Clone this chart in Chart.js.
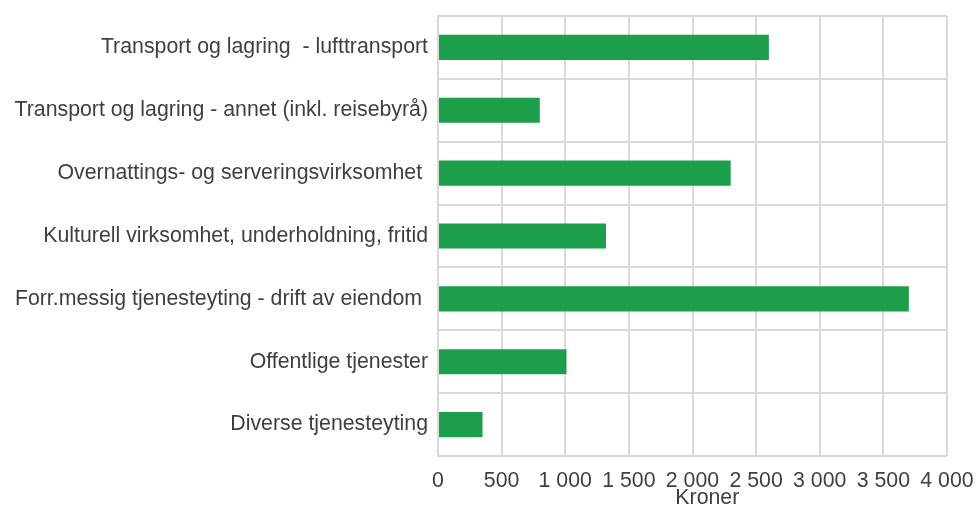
<!DOCTYPE html>
<html>
<head>
<meta charset="utf-8">
<script src="https://cdn.jsdelivr.net/npm/chart.js@4/dist/chart.umd.min.js"></script>
<style>
  html, body { margin: 0; padding: 0; background: #fff; }
  #wrap { width: 976px; height: 507px; }
</style>
</head>
<body>
<div id="wrap"><canvas id="graf"></canvas></div>
<script>
const kategorier = [
    'Transport og lagring  - lufttransport',
    'Transport og lagring - annet (inkl. reisebyrå)',
    'Overnattings- og serveringsvirksomhet ',
    'Kulturell virksomhet, underholdning, fritid',
    'Forr.messig tjenesteyting - drift av eiendom ',
    'Offentlige tjenester',
    'Diverse tjenesteyting'
];
const kroner = [2600, 800, 2300, 1320, 3700, 1010, 350];

const ctx = document.getElementById('graf').getContext('2d');

new Chart(ctx, {
    type: 'bar',
    data: {
        labels: kategorier,
        datasets: [{
            data: kroner,
            backgroundColor: '#1c9e4b',
            borderWidth: 0,
            categoryPercentage: 1,
            barPercentage: 0.4
        }]
    },
    options: {
        indexAxis: 'y',
        responsive: true,
        maintainAspectRatio: false,
        animation: false,
        layout: { padding: { top: 16, right: 29, left: 0, bottom: 0 } },
        plugins: {
            legend: { display: false },
            tooltip: { enabled: false }
        },
        scales: {
            x: {
                min: 0,
                max: 4000,
                ticks: {
                    stepSize: 500,
                    color: '#3f3f3f',
                    font: { family: 'Liberation Sans', size: 21.3 },
                    padding: 12,
                    maxRotation: 0,
                    autoSkip: false,
                    callback: function (value) {
                        return String(value).replace(/\B(?=(\d{3})+(?!\d))/g, ' ');
                    }
                },
                grid: { color: '#d9d9d9', lineWidth: 2, drawTicks: false },
                border: { display: false },
                title: {
                    display: true,
                    // litt forskjøvet mot høyre, som i originalen
                    text: '     Kroner',
                    color: '#3f3f3f',
                    font: { family: 'Liberation Sans', size: 21.3, lineHeight: 1 },
                    padding: { top: 0, bottom: -2 }
                },
                afterFit: function (axis) {
                    axis.height = 51;
                    axis.paddingLeft = 0;
                    axis.paddingRight = 0;
                }
            },
            y: {
                ticks: {
                    color: '#3f3f3f',
                    font: { family: 'Liberation Sans', size: 21.3 },
                    padding: 10
                },
                grid: { color: '#d9d9d9', lineWidth: 2, drawTicks: false },
                border: { color: '#d9d9d9', width: 2 },
                afterFit: function (axis) {
                    axis.width = 438;
                    axis.paddingTop = 0;
                    axis.paddingBottom = 0;
                }
            }
        }
    }
});
</script>
</body>
</html>
